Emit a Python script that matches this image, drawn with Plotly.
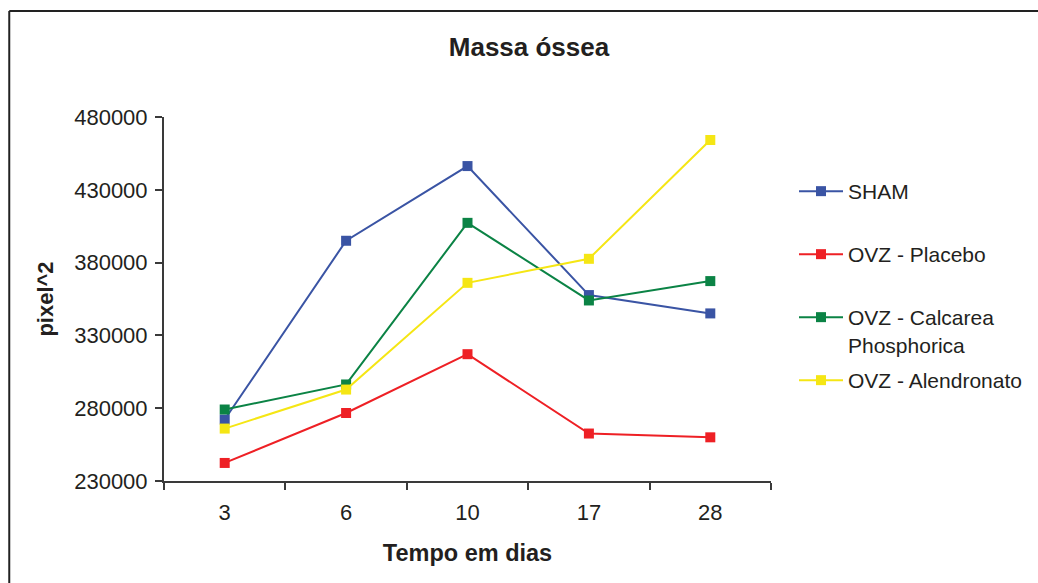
import plotly.graph_objects as go

# ---- data ----
days = ["3", "6", "10", "17", "28"]
sham = [272200, 395000, 446300, 357700, 345100]
placebo = [242400, 276700, 317100, 262600, 260000]
calcarea = [279100, 296300, 407300, 354000, 367300]
alendronato = [266000, 292800, 366100, 382600, 464200]

series_names = ["SHAM", "OVZ - Placebo", "OVZ - Calcarea<br>Phosphorica", "OVZ - Alendronato"]
series_values = [sham, placebo, calcarea, alendronato]
series_colors = ["#3A54A4", "#EE2025", "#0B8345", "#F5E614"]

y_ticks = [230000, 280000, 330000, 380000, 430000, 480000]

# ---- layout geometry (pixels) ----
W, H = 1038, 583
L, R, T, B = 164, 772, 117, 481
pw, ph = R - L, B - T

def px_x(x):
    return (x - L) / pw

def px_y(y):
    return (B - y) / ph

FONT = "Liberation Sans, Arial, sans-serif"
TXT = "#231f20"
AX = "#3a3a3a"

fig = go.Figure()
legend_ids = ["legend", "legend2", "legend3", "legend4"]
for name, vals, col, lid in zip(series_names, series_values, series_colors, legend_ids):
    fig.add_trace(go.Scatter(
        x=days, y=vals, name=name, mode="lines+markers",
        line=dict(color=col, width=2),
        marker=dict(symbol="square", size=10, color=col),
        legend=lid,
    ))

legend_centers = [192, 255, 318, 381]
leg_common = dict(
    font=dict(family=FONT, size=21, color=TXT),
    bgcolor="rgba(0,0,0,0)", borderwidth=0,
    xanchor="left", yanchor="top", valign="top",
    itemwidth=44, tracegroupgap=0,
)
for lid, yc in zip(legend_ids, legend_centers):
    fig.update_layout({lid: dict(x=px_x(794), y=px_y(yc - 21), **leg_common)})

fig.update_layout(
    width=W, height=H,
    margin=dict(l=L, r=W - R, t=T, b=H - B, pad=0),
    paper_bgcolor="white", plot_bgcolor="white",
    showlegend=True,
    title=dict(text="<b>Massa óssea</b>", x=529 / W, xref="container", xanchor="center",
               y=1 - 47 / H, yref="container", yanchor="middle",
               font=dict(family=FONT, size=26, color=TXT)),
    xaxis=dict(
        type="category", tickson="boundaries", range=[-0.5, 4.5],
        showline=True, linecolor=AX, linewidth=2,
        ticks="outside", ticklen=7, tickwidth=2, tickcolor=AX,
        showgrid=False, zeroline=False,
        tickfont=dict(family=FONT, size=22, color=TXT),
        ticklabelstandoff=11,
        title=dict(text="<b>Tempo em dias</b>", standoff=20,
                   font=dict(family=FONT, size=23.5, color=TXT)),
    ),
    yaxis=dict(
        range=[230000, 480000], tickvals=y_ticks, tickformat="d",
        showline=True, linecolor=AX, linewidth=2,
        ticks="outside", ticklen=7, tickwidth=2, tickcolor=AX,
        showgrid=False, zeroline=False,
        tickfont=dict(family=FONT, size=22, color=TXT),
        ticklabelstandoff=3,
        title=dict(text="<b>pixel^2</b>", standoff=14,
                   font=dict(family=FONT, size=22, color=TXT)),
    ),
    shapes=[
        dict(type="line", xref="paper", yref="paper",
             x0=px_x(9), x1=px_x(W + 20), y0=px_y(11), y1=px_y(11),
             line=dict(color="#222", width=2)),
        dict(type="line", xref="paper", yref="paper",
             x0=px_x(9), x1=px_x(9), y0=px_y(11), y1=px_y(H + 20),
             line=dict(color="#222", width=2)),
    ],
)

fig.write_html("out.html")
